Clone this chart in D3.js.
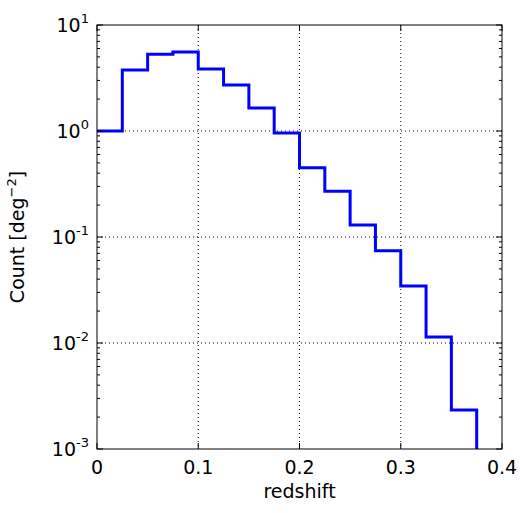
<!DOCTYPE html><html><head><script src="https://cdn.jsdelivr.net/npm/d3@7"></script>
<style>body{margin:0;background:#fff}text{font-family:"DejaVu Sans",sans-serif}</style></head><body>
<svg id="c" width="520" height="513"></svg>
<script>
const binEdges=[0,0.025,0.05,0.075,0.1,0.125,0.15,0.175,0.2,0.225,0.25,0.275,0.3,0.325,0.35,0.375];
const counts=[1.0,3.76,5.3,5.55,3.84,2.72,1.65,0.96,0.45,0.27,0.13,0.074,0.0345,0.0114,0.00233];
const xTicks=[0,0.1,0.2,0.3,0.4];
const yExps=[-3,-2,-1,0,1];
const svg=d3.select("#c");
const L=97,R=502,T=25,B=449;
const x=d3.scaleLinear().domain([0,0.4]).range([L,R]);
const y=d3.scaleLog().domain([1e-3,10]).range([B,T]);
const g=svg.append("g");
// grid
xTicks.slice(1,-1).forEach(t=>g.append("line").attr("x1",x(t)).attr("x2",x(t)).attr("y1",T).attr("y2",B).attr("stroke","#000").attr("stroke-dasharray","1,3"));
yExps.slice(1,-1).forEach(e=>g.append("line").attr("x1",L).attr("x2",R).attr("y1",y(10**e)).attr("y2",y(10**e)).attr("stroke","#000").attr("stroke-dasharray","1,3"));
// step path
const pts=[];
counts.forEach((c,i)=>{pts.push([binEdges[i],c]);pts.push([binEdges[i+1],c]);});
pts.push([binEdges[binEdges.length-1],1e-3]);
svg.append("path").attr("d",d3.line().x(d=>x(d[0])).y(d=>y(d[1]))(pts)).attr("fill","none").attr("stroke","#0000ff").attr("stroke-width",3);
// frame
svg.append("rect").attr("x",L).attr("y",T).attr("width",R-L).attr("height",B-T).attr("fill","none").attr("stroke","#000");
// ticks
xTicks.forEach(t=>{svg.append("line").attr("x1",x(t)).attr("x2",x(t)).attr("y1",B).attr("y2",B-6).attr("stroke","#000");
svg.append("line").attr("x1",x(t)).attr("x2",x(t)).attr("y1",T).attr("y2",T+6).attr("stroke","#000");
svg.append("text").attr("x",x(t)).attr("y",B+25).attr("text-anchor","middle").attr("font-size",19).text(String(t));});
yExps.forEach(e=>{const yy=y(10**e);
svg.append("line").attr("x1",L).attr("x2",L+6).attr("y1",yy).attr("y2",yy).attr("stroke","#000");
svg.append("line").attr("x1",R).attr("x2",R-6).attr("y1",yy).attr("y2",yy).attr("stroke","#000");
const t=svg.append("text").attr("x",L-8).attr("y",yy+7).attr("text-anchor","end").attr("font-size",19);
t.append("tspan").text("10");t.append("tspan").attr("dy",-9).attr("font-size",13).text(String(e));
for(let k=2;k<10&&e<1;k++){const v=k*10**e,yv=y(v);
svg.append("line").attr("x1",L).attr("x2",L+3).attr("y1",yv).attr("y2",yv).attr("stroke","#000");
svg.append("line").attr("x1",R).attr("x2",R-3).attr("y1",yv).attr("y2",yv).attr("stroke","#000");}});
svg.append("text").attr("x",(L+R)/2).attr("y",498).attr("text-anchor","middle").attr("font-size",19).text("redshift");
const yl=svg.append("text").attr("transform",`translate(24,${(T+B)/2}) rotate(-90)`).attr("text-anchor","middle").attr("font-size",19);
yl.append("tspan").text("Count [deg");yl.append("tspan").attr("dy",-8).attr("font-size",13).text("−2");yl.append("tspan").attr("dy",8).text("]");
</script></body></html>
